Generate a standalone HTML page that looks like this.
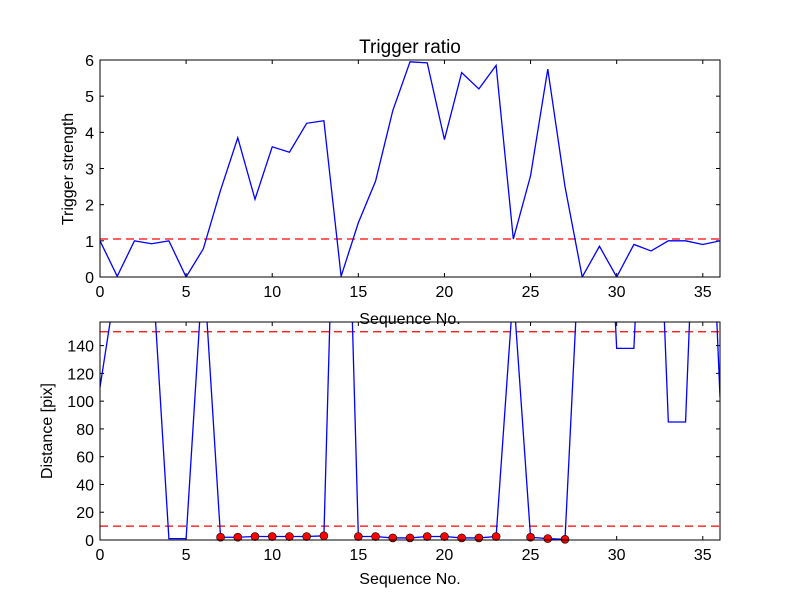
<!DOCTYPE html>
<html><head><meta charset="utf-8"><style>
body{margin:0;background:#fff;}
svg text{font-family:"Liberation Sans","DejaVu Sans",sans-serif;fill:#000;}
</style></head><body>
<svg id="chart" width="800" height="600" xmlns="http://www.w3.org/2000/svg">
<rect width="800" height="600" fill="#fff"/>
<defs><clipPath id="clipTop"><rect x="100" y="60" width="620" height="217"/></clipPath>
<clipPath id="clipBot"><rect x="100" y="322" width="620" height="218"/></clipPath></defs>
<g id="g"></g>
</svg>
<script>
const seq = Array.from({length:37},(_,i)=>i);
const triggerStrength = [1.0,0.02,1.0,0.92,1.0,0.0,0.78,2.4,3.85,2.15,3.6,3.45,4.25,4.32,0.02,1.5,2.65,4.6,5.95,5.92,3.8,5.65,5.2,5.85,1.05,2.8,5.75,2.5,0.0,0.85,0.0,0.9,0.72,1.0,1.0,0.9,1.0];
const triggerThreshold = 1.05;
const distance = [110,190,300,203,1,1,200,2,2,2.5,2.5,2.5,2.5,3,450,2.5,2.5,1.5,1.5,2.5,2.5,1.5,1.5,2.5,180,2,1,0.5,252,400,138,138,400,85,85,400,103];
const distThresholds = [150,10];
const topYTicks = [0,1,2,3,4,5,6];
const botYTicks = [0,20,40,60,80,100,120,140];
const xTicks = [0,5,10,15,20,25,30,35];

const g=document.getElementById('g');
const NS='http://www.w3.org/2000/svg';
function el(tag,attrs,parent){const e=document.createElementNS(NS,tag);for(const k in attrs)e.setAttribute(k,attrs[k]);(parent||g).appendChild(e);return e;}
const X=v=>100+v*620/36;
const YT=v=>277-v*217/6;
const YB=v=>540-v*218/157;

function axes(top,bottom,Y,yTicks,name){
  for(const t of xTicks){
    const l=el('line',{x1:X(t),x2:X(t),y1:bottom,y2:bottom-4,stroke:'#000'});
    
    
    el('line',{x1:X(t),x2:X(t),y1:top,y2:top+4,stroke:'#000'});
    const tx=el('text',{x:X(t),y:bottom+20,'font-size':16,'text-anchor':'middle'});
    tx.textContent=t;
    
    
  }
  for(const t of yTicks){
    el('line',{x1:100,x2:104,y1:Y(t),y2:Y(t),stroke:'#000'});
    el('line',{x1:720,x2:716,y1:Y(t),y2:Y(t),stroke:'#000'});
    const tx=el('text',{x:94,y:Y(t)+6,'font-size':16,'text-anchor':'end'});
    tx.textContent=t;
    
    
  }
}
// top plot
axes(60,277,YT,topYTicks,'top');
const th=el('line',{x1:100,x2:720,y1:YT(triggerThreshold),y2:YT(triggerThreshold),stroke:'#f00','stroke-dasharray':'8,5','stroke-width':1.3,'clip-path':'url(#clipTop)'});


const tl=el('polyline',{points:seq.map((s,i)=>X(s)+','+YT(triggerStrength[i])).join(' '),fill:'none',stroke:'#00f','stroke-width':1.3,'clip-path':'url(#clipTop)'});


const f1=el('rect',{x:100,y:60,width:620,height:217,fill:'none',stroke:'#000'});


// bottom plot
axes(322,540,YB,botYTicks,'bottom');
for(const d of distThresholds){
  const l=el('line',{x1:100,x2:720,y1:YB(d),y2:YB(d),stroke:'#f00','stroke-dasharray':'8,5','stroke-width':1.3,'clip-path':'url(#clipBot)'});
  
  
}
const dl=el('polyline',{points:seq.map((s,i)=>X(s)+','+YB(distance[i])).join(' '),fill:'none',stroke:'#00f','stroke-width':1.3,'clip-path':'url(#clipBot)'});


seq.forEach((s,i)=>{
  if(distance[i]<distThresholds[1]&&triggerStrength[i]>triggerThreshold){
    const c=el('circle',{cx:X(s),cy:YB(distance[i]),r:4,fill:'#f00',stroke:'#000','stroke-width':0.6});
    
    
  }
});
const f2=el('rect',{x:100,y:322,width:620,height:218,fill:'none',stroke:'#000'});


// labels
function txt(s,attrs,name){const t=el('text',attrs);t.textContent=s;}
txt('Trigger ratio',{x:410,y:53,'font-size':19,'text-anchor':'middle'},'chart-title');
txt('Sequence No.',{x:410,y:324,'font-size':16,'text-anchor':'middle'},'top-x-axis-title');
txt('Sequence No.',{x:410,y:584,'font-size':16,'text-anchor':'middle'},'bottom-x-axis-title');
txt('Trigger strength',{x:73,y:169,'font-size':16,'text-anchor':'middle',transform:'rotate(-90 73 169)'},'top-y-axis-title');
txt('Distance [pix]',{x:52,y:431,'font-size':16,'text-anchor':'middle',transform:'rotate(-90 52 431)'},'bottom-y-axis-title');
</script>
</body></html>
